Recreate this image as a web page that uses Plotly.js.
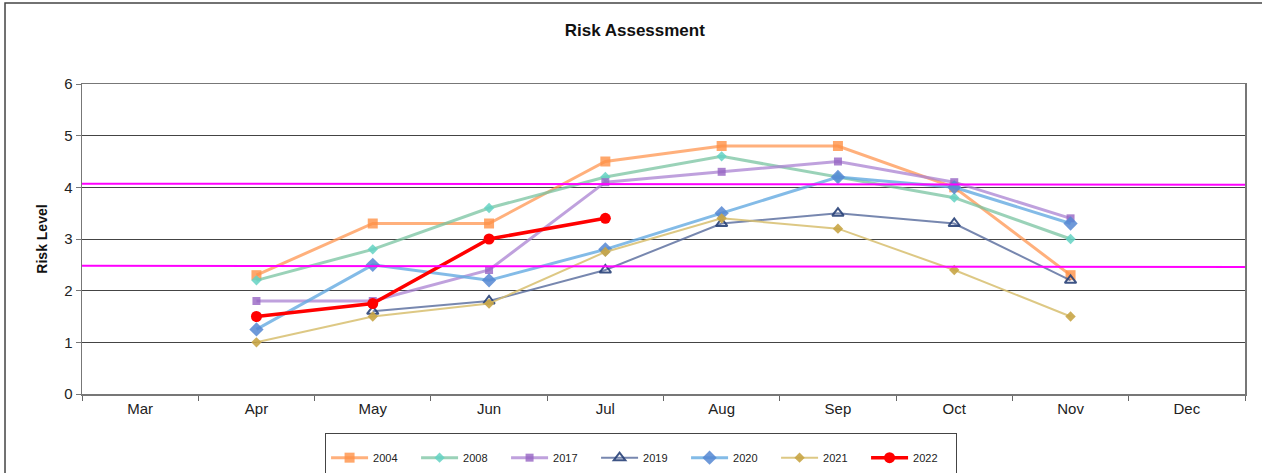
<!DOCTYPE html>
<html>
<head>
<meta charset="utf-8">
<script src="https://cdn.plot.ly/plotly-3.0.1.min.js"></script>
<style>html,body{margin:0;padding:0;background:#fff;}#chart{width:1262px;height:473px;}</style>
</head>
<body>
<div id="chart"></div>
<script>
const months = ["Mar","Apr","May","Jun","Jul","Aug","Sep","Oct","Nov","Dec"];
const dataMonths = ["Apr","May","Jun","Jul","Aug","Sep","Oct","Nov"];
const s2004 = [2.3, 3.3, 3.3, 4.5, 4.8, 4.8, 4.0, 2.3];
const s2008 = [2.2, 2.8, 3.6, 4.2, 4.6, 4.2, 3.8, 3.0];
const s2017 = [1.8, 1.8, 2.4, 4.1, 4.3, 4.5, 4.1, 3.4];
const s2019 = [null, 1.6, 1.8, 2.4, 3.3, 3.5, 3.3, 2.2];
const s2020 = [1.25, 2.5, 2.2, 2.8, 3.5, 4.2, 4.0, 3.3];
const s2021 = [1.0, 1.5, 1.75, 2.75, 3.4, 3.2, 2.4, 1.5];
const s2022 = [1.5, 1.75, 3.0, 3.4];
const upperThreshold = [4.07, 4.05];
const lowerThreshold = [2.48, 2.46];
const yTicks = [0,1,2,3,4,5,6];

function tr(name, y, lineColor, lineWidth, symbol, mColor, mSize, mLine) {
  return {
    type: 'scatter', mode: 'lines+markers', name: name,
    x: dataMonths.slice(0, y.length), y: y,
    line: {color: lineColor, width: lineWidth},
    marker: {symbol: symbol, color: mColor, size: mSize, line: mLine || {width: 0}},
    connectgaps: false
  };
}

const traces = [
  tr('2004', s2004, 'rgba(255,150,80,0.75)', 3, 'square', 'rgba(255,145,70,0.8)', 10),
  tr('2008', s2008, 'rgba(120,195,160,0.75)', 3, 'diamond', 'rgba(100,210,195,0.85)', 8),
  tr('2017', s2017, 'rgba(170,130,210,0.75)', 3, 'square', 'rgba(150,100,195,0.8)', 8),
  tr('2019', s2019, 'rgba(85,105,155,0.8)', 2, 'triangle-up-open', 'rgba(40,65,120,0.9)', 10, {width: 2, color: 'rgba(40,65,120,0.9)'}),
  tr('2020', s2020, 'rgba(100,170,225,0.8)', 3, 'diamond', 'rgba(85,135,210,0.85)', 11),
  tr('2021', s2021, 'rgba(215,190,110,0.85)', 2, 'diamond', 'rgba(200,165,70,0.9)', 8),
  tr('2022', s2022, '#FF0000', 3.5, 'circle', '#FF0000', 11)
];

const shapes = [
  {type:'line', xref:'paper', yref:'y', x0:0, x1:1, y0:upperThreshold[0], y1:upperThreshold[1], line:{color:'#FF00FF', width:2}},
  {type:'line', xref:'paper', yref:'y', x0:0, x1:1, y0:lowerThreshold[0], y1:lowerThreshold[1], line:{color:'#FF00FF', width:2}},
  {type:'rect', xref:'paper', yref:'paper', x0:-0.0662, x1:1.2, y0:-0.6, y1:1.261, line:{color:'#444', width:1.5}, layer:'below'}
];

const layout = {
  width: 1262, height: 473,
  margin: {l: 82, r: 17, t: 84, b: 79, autoexpand: false},
  paper_bgcolor: '#fff', plot_bgcolor: '#fff',
  font: {family: 'Liberation Sans, Arial, sans-serif', color: '#222', size: 14},
  title: {text: '<b>Risk Assessment</b>', x: 0.503, xref: 'container', y: 0.937, yref: 'container', yanchor: 'middle', font: {size: 17, color: '#111'}},
  xaxis: {
    type: 'category', categoryorder: 'array', categoryarray: months,
    range: [-0.5, 9.5], tickson: 'boundaries', ticks: 'outside', ticklen: 5, tickcolor: '#666',
    showgrid: false, showline: true, linecolor: '#777', linewidth: 1.5, mirror: true,
    tickfont: {size: 15, color: '#222'}, fixedrange: true
  },
  yaxis: {
    range: [0, 6], tickvals: yTicks, ticks: 'outside', ticklen: 5, tickcolor: '#777',
    showgrid: true, gridcolor: '#444', gridwidth: 1, zeroline: false,
    showline: true, linecolor: '#777', linewidth: 1.5, mirror: true,
    tickfont: {size: 15, color: '#222'},
    title: {text: '<b>Risk Level</b>', font: {size: 14, color: '#111'}, standoff: 13}
  },
  showlegend: true,
  legend: {
    orientation: 'h', x: 0.209, xanchor: 'left', y: -0.126, yanchor: 'top',
    bordercolor: '#444', borderwidth: 1, bgcolor: '#fff',
    font: {size: 11, color: '#222'}, entrywidth: 38, entrywidthmode: 'pixels', itemwidth: 37,
    traceorder: 'normal',
    title: {text: ' ', side: 'top', font: {size: 7}}
  },
  shapes: shapes
};

Plotly.newPlot('chart', traces, layout, {displayModeBar: false, staticPlot: true});
</script>
</body>
</html>
